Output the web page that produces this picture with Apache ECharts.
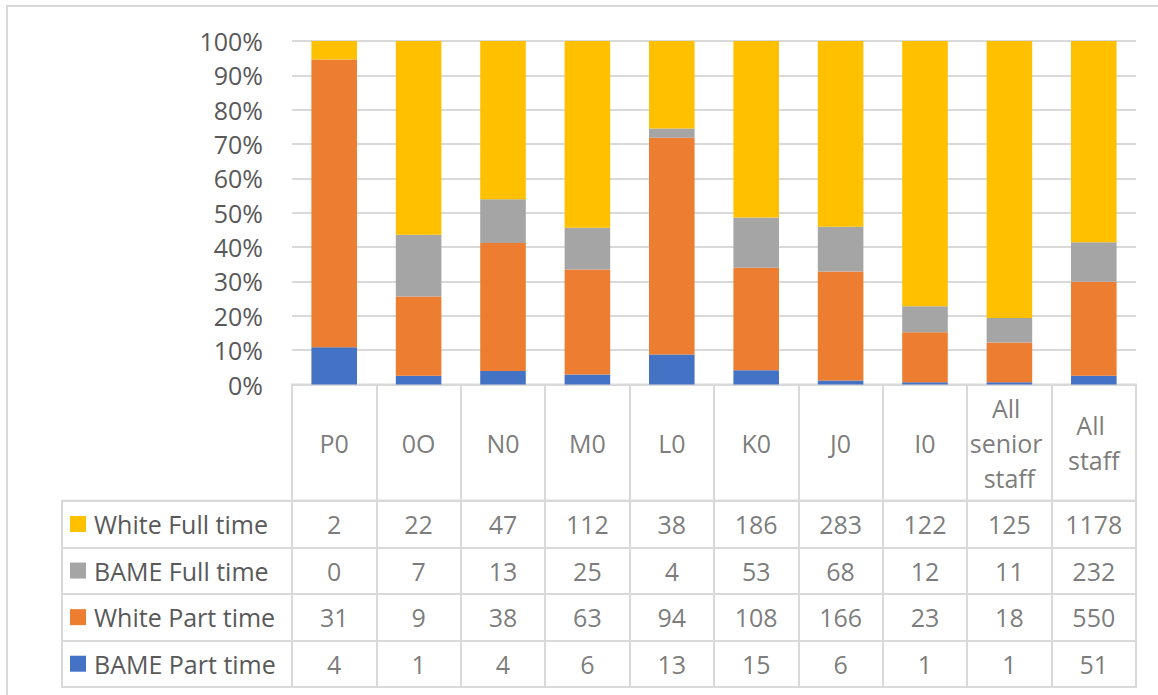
<!DOCTYPE html>
<html>
<head>
<meta charset="utf-8">
<script src="https://cdn.jsdelivr.net/npm/echarts@6/dist/echarts.min.js"></script>
<style>
html, body { margin: 0; padding: 0; background: #fff; }
#chart { width: 1158px; height: 695px; }
</style>
</head>
<body>
<div id="chart"></div>
<script>
const categories = ['P0', '0O', 'N0', 'M0', 'L0', 'K0', 'J0', 'I0', 'All senior staff', 'All staff'];
const rowNames = ['White Full time', 'BAME Full time', 'White Part time', 'BAME Part time'];
const whiteFullTime = [2, 22, 47, 112, 38, 186, 283, 122, 125, 1178];
const bameFullTime = [0, 7, 13, 25, 4, 53, 68, 12, 11, 232];
const whitePartTime = [31, 9, 38, 63, 94, 108, 166, 23, 18, 550];
const bamePartTime = [4, 1, 4, 6, 13, 15, 6, 1, 1, 51];

const rowValues = [whiteFullTime, bameFullTime, whitePartTime, bamePartTime];
const rowColors = ['#FFC000', '#A5A5A5', '#ED7D31', '#4472C4'];

const totals = categories.map((c, i) => rowValues.reduce((s, r) => s + r[i], 0));
const share = arr => arr.map((v, i) => v / totals[i]);

const FONT = 'Open Sans';
const TXT = '#595959';
const LINE = '#d9d9d9';
const L = 292, R = 22;

const chart = echarts.init(document.getElementById('chart'), null, { renderer: 'svg' });

// bars stacked bottom-up: BAME PT, White PT, BAME FT, White FT
const barSeries = [3, 2, 1, 0].map(k => ({
    name: rowNames[k],
    type: 'bar',
    stack: 'total',
    barWidth: '54%',
    xAxisIndex: 0,
    yAxisIndex: 0,
    data: share(rowValues[k]),
    itemStyle: { color: rowColors[k] },
    silent: true
}));

// table cells sit in the middle of each column band (value axis 0..n)
const cellData = [];
rowValues.forEach((row, r) => row.forEach((v, c) => cellData.push([c + 0.5, r, v])));

const rich = { t: { fontFamily: FONT, fontSize: 25, color: TXT, padding: [0, 0, 0, 8] } };
rowColors.forEach((col, k) => {
    rich['s' + k] = { width: 16, height: 16, backgroundColor: col };
});

const cellLines = { show: true, lineStyle: { color: LINE, width: 2 } };
const colAxis = gi => ({
    type: 'value', gridIndex: gi, min: 0, max: categories.length, interval: 1,
    axisLine: { show: false }, axisTick: { show: false }, axisLabel: { show: false },
    splitLine: cellLines
});

chart.setOption({
    animation: false,
    textStyle: { fontFamily: FONT },
    graphic: [{
        type: 'rect',
        shape: { x: 7, y: 6, width: 1300, height: 900 },
        style: { fill: 'none', stroke: LINE, lineWidth: 2 },
        silent: true
    }],
    grid: [
        { left: L, right: R, top: 41, bottom: 310.5 },
        { left: L, right: R, top: 384.5, bottom: 194.3, show: true, borderColor: LINE, borderWidth: 2 },
        { left: L, right: R, top: 500.7, bottom: 8, show: true, borderColor: LINE, borderWidth: 2 },
        { left: 62, width: L - 62, top: 500.7, bottom: 8, show: true, borderColor: LINE, borderWidth: 2 }
    ],
    xAxis: [
        {
            type: 'category', gridIndex: 0, data: categories,
            axisLine: { lineStyle: { color: LINE, width: 2 } },
            axisTick: { show: false },
            axisLabel: { show: false }
        },
        colAxis(1),
        colAxis(2),
        { type: 'value', gridIndex: 3, show: false, min: 0, max: 1 }
    ],
    yAxis: [
        {
            type: 'value', gridIndex: 0, min: 0, max: 1, interval: 0.1,
            axisLine: { show: false }, axisTick: { show: false },
            axisLabel: {
                margin: 29, fontSize: 25, color: TXT, fontFamily: FONT,
                formatter: v => Math.round(v * 100) + '%'
            },
            splitLine: { lineStyle: { color: LINE, width: 2 } }
        },
        { type: 'value', gridIndex: 1, min: 0, max: 1, show: false },
        {
            type: 'category', gridIndex: 2, data: rowNames, inverse: true,
            axisLine: { show: false }, axisTick: { show: false }, axisLabel: { show: false },
            splitLine: cellLines
        },
        {
            type: 'category', gridIndex: 3, data: rowNames, inverse: true,
            axisLine: { show: false }, axisTick: { show: false },
            splitLine: cellLines,
            axisLabel: {
                inside: true, margin: 8, align: 'left', interval: 0,
                formatter: (val, idx) => '{s' + idx + '|}{t|' + val + '}',
                rich: rich
            }
        }
    ],
    series: barSeries.concat([
        {
            type: 'scatter',
            xAxisIndex: 1, yAxisIndex: 1,
            symbolSize: 1,
            itemStyle: { color: 'rgba(0,0,0,0)' },
            silent: true,
            data: categories.map((c, i) => [i + 0.5, 0.5]),
            label: {
                show: true, position: 'inside',
                width: 80, overflow: 'break', lineHeight: 35, align: 'center',
                fontSize: 25, color: TXT, fontFamily: FONT,
                formatter: p => categories[p.dataIndex]
            }
        },
        {
            type: 'scatter',
            xAxisIndex: 2, yAxisIndex: 2,
            symbolSize: 1,
            itemStyle: { color: 'rgba(0,0,0,0)' },
            silent: true,
            data: cellData,
            label: {
                show: true, position: 'inside',
                fontSize: 25, color: TXT, fontFamily: FONT,
                formatter: p => String(p.value[2])
            }
        }
    ])
});
</script>
</body>
</html>
